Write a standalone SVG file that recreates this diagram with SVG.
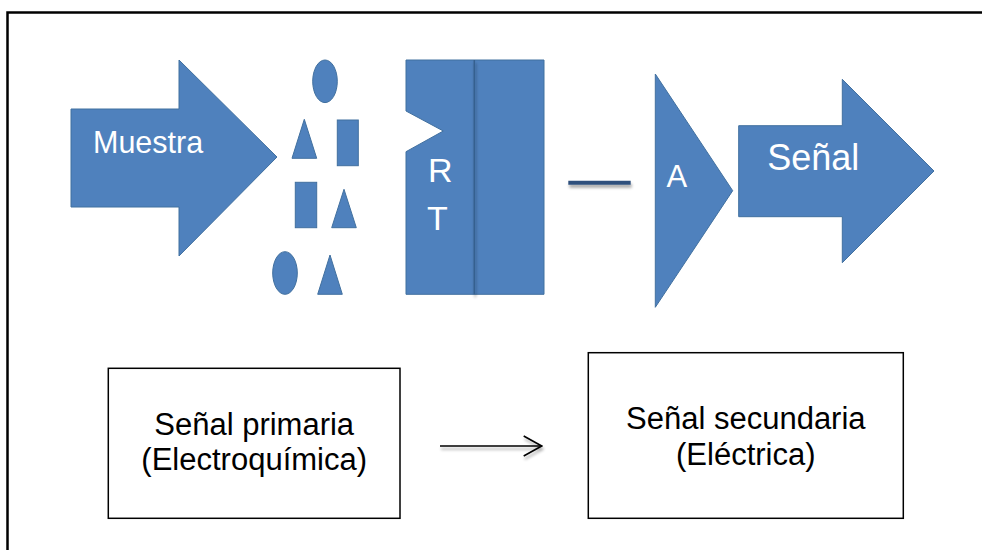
<svg xmlns="http://www.w3.org/2000/svg" width="982" height="550" viewBox="0 0 982 550">
<style>
.shape{fill:#4f81bd;stroke:#41709f;stroke-width:1}
.wt{fill:#ffffff;font-family:"Liberation Sans",Arial,sans-serif}
.bt{fill:#000000;font-family:"Liberation Sans",Arial,sans-serif;font-size:31px;text-anchor:middle}
.box{fill:#ffffff;stroke:#000000;stroke-width:1.5}
</style>
<defs>
<filter id="sh" filterUnits="userSpaceOnUse" x="0" y="0" width="982" height="550">
<feGaussianBlur in="SourceAlpha" stdDeviation="1.5"/>
<feOffset dx="1" dy="3" result="b"/>
<feComponentTransfer><feFuncA type="linear" slope="0.35"/></feComponentTransfer>
<feMerge><feMergeNode/><feMergeNode in="SourceGraphic"/></feMerge>
</filter>
<marker id="open" viewBox="0 0 20 22" refX="19" refY="11" markerWidth="20" markerHeight="22" markerUnits="userSpaceOnUse" orient="auto">
<path d="M1,1 L19,11 L1,21" fill="none" stroke="#000" stroke-width="1.6"/>
</marker>
</defs>
<rect width="982" height="550" fill="#ffffff"/>
<rect id="frame" x="7.5" y="12.5" width="990" height="560" fill="none" stroke="#000" stroke-width="2.5"/>

<g id="muestra">
<polygon class="shape" points="71,109 179,109 179,60 277,157 179,256 179,207 71,207"/>
<text class="wt" x="93" y="153" font-size="30.5">Muestra</text>
</g>

<g id="particulas">
<ellipse class="shape" cx="325" cy="81.3" rx="12.3" ry="21.3"/>
<polygon class="shape" points="304.3,119.3 316.7,158.3 292,158.3"/>
<rect class="shape" x="337.3" y="120" width="21" height="45.7"/>
<rect class="shape" x="295.3" y="182.3" width="21.4" height="45.4"/>
<polygon class="shape" points="344,189.3 356.3,227.7 331.7,227.7"/>
<ellipse class="shape" cx="285" cy="273" rx="12.3" ry="21.3"/>
<polygon class="shape" points="330,255 342.3,294.3 317.7,294.3"/>
</g>

<g id="rt">
<polygon class="shape" points="406,60 544,60 544,294.3 406,294.3 406,151.7 443.3,131 406,111"/>
<line x1="474.3" y1="60" x2="474.3" y2="294.3" stroke="#36608f" stroke-width="1.6" filter="url(#sh)"/>
<text class="wt" x="428" y="181.7" font-size="34">R</text>
<text class="wt" x="427" y="230" font-size="34">T</text>
</g>

<g id="connectors">
<line x1="568.3" y1="182.7" x2="630.7" y2="182.7" stroke="#2d4f7c" stroke-width="4" filter="url(#sh)"/>
<line x1="440" y1="446" x2="541.7" y2="446" stroke="#000" stroke-width="1.6" marker-end="url(#open)" filter="url(#sh)"/>
</g>

<g id="amplificador">
<polygon class="shape" points="655.3,74 732.7,190.7 655.3,307.3"/>
<text class="wt" x="666.5" y="186.7" font-size="31">A</text>
</g>

<g id="senal">
<polygon class="shape" points="738.7,125.7 842.3,125.7 842.3,79.3 934,171 842.3,262.7 842.3,216.7 738.7,216.7"/>
<text class="wt" x="767.3" y="170" font-size="36">Señal</text>
</g>

<g id="primaria">
<rect class="box" x="108.3" y="368.3" width="291.7" height="150"/>
<text class="bt" x="254.2" y="434.5">Señal primaria</text>
<text class="bt" x="254.2" y="470">(Electroquímica)</text>
</g>

<g id="secundaria">
<rect class="box" x="588.3" y="352.7" width="315" height="165.6"/>
<text class="bt" x="745.8" y="428.5">Señal secundaria</text>
<text class="bt" x="745.8" y="464.5">(Eléctrica)</text>
</g>
</svg>
